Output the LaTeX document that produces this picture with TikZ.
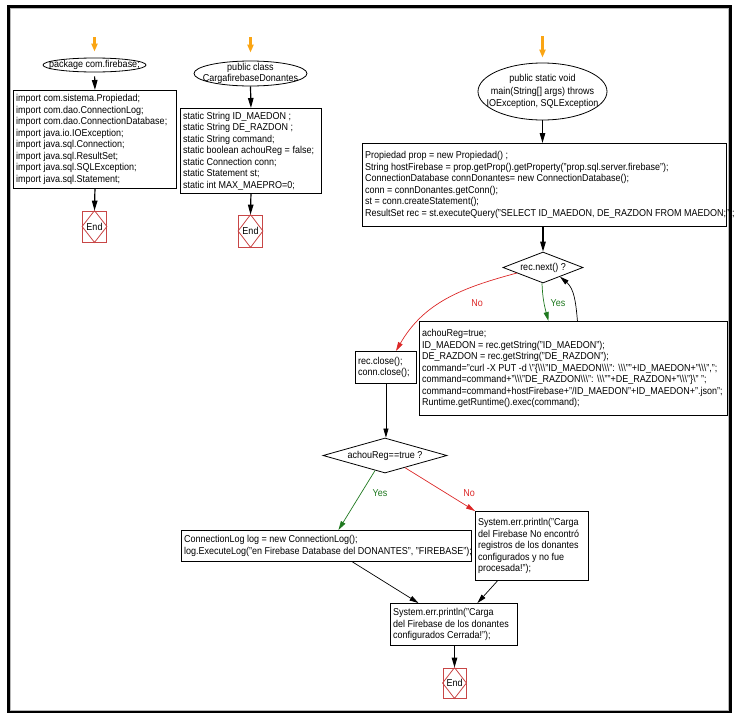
\documentclass[tikz,border=0pt]{standalone}
\usepackage{fontspec}
\setmainfont{Liberation Sans}[FakeStretch=0.9]
\usetikzlibrary{shapes.geometric,arrows.meta,calc}
\newcommand\bsl{\textbackslash}
\definecolor{endred}{RGB}{200,70,70}
\definecolor{orng}{RGB}{250,165,20}
\definecolor{yesgreen}{RGB}{30,120,30}
\definecolor{nored}{RGB}{220,40,40}
\begin{document}
\begin{tikzpicture}[x=1pt,y=-1pt,
  every node/.style={font=\fontsize{10}{11.5}\selectfont},
  boxs/.style={draw, line width=0.9pt, anchor=north west, inner sep=0pt},
  txt/.style={anchor=west, align=left, inner sep=3pt},
  ctxt/.style={align=center, inner sep=0pt},
  ell/.style={draw, ellipse, line width=0.8pt, inner sep=0pt},
  dia/.style={draw, diamond, line width=0.8pt, inner sep=0pt},
  endbox/.style={draw=endred, line width=0.8pt, inner sep=0pt},
  startarr/.style={draw=orng, line width=2.2pt, -{Triangle[length=8pt,width=6pt]}},
  flow/.style={line width=1.2pt, -{Triangle[length=10pt,width=5.5pt]}},
  flowthin/.style={line width=0.7pt, -{Triangle[length=9pt,width=5pt]}},
  yesarr/.style={draw=yesgreen, line width=0.7pt, -{Triangle[length=9pt,width=5pt]}},
  noarr/.style={draw=nored, line width=0.7pt, -{Triangle[length=9pt,width=5pt]}}
]
\useasboundingbox (0,0) rectangle (741,718);
% frame
\draw[gray!55, line width=0.8pt] (10.5,8.5) rectangle (728.5,710);
\draw[line width=2.5pt] (8.5,6.5) rectangle (730.5,712);

% ---------- column 1
\coordinate (s1) at (94.5,37);
\node[ell, minimum width=103pt, minimum height=14pt] (e1) at (94.5,65) {};
\node[ctxt] (e1t) at (e1) {package com.firebase;};
\node[boxs, minimum width=163pt, minimum height=98pt] (b1) at (13,90) {};
\node[txt] (b1t) at (b1.west) {import com.sistema.Propiedad;\\
import com.dao.ConnectionLog;\\
import com.dao.ConnectionDatabase;\\
import java.io.IOException;\\
import java.sql.Connection;\\
import java.sql.ResultSet;\\
import java.sql.SQLException;\\
import java.sql.Statement;};
\node[endbox, minimum width=24pt, minimum height=31pt] (end1) at (94.5,226.5) {};
\draw[endred, line width=0.8pt] (end1.north) -- (end1.east) -- (end1.south) -- (end1.west) -- cycle;
\node[ctxt] (end1t) at (end1) {End};
\draw[startarr, shorten >=6pt] (s1) -- (e1.north);
\draw[flow, shorten <=4pt] (e1.south) -- (b1.north);
\draw[flow] (b1.south) -- (end1.north);

% ---------- column 2
\coordinate (s2) at (250.5,37);
\node[ell, minimum width=113pt, minimum height=25pt] (e2) at (250.5,73.5) {};
\node[ctxt] (e2t) at (e2) {public class\\CargafirebaseDonantes};
\node[boxs, minimum width=141pt, minimum height=85pt] (b2) at (180,108) {};
\node[txt] (b2t) at (b2.west) {static String ID\_MAEDON ;\\
static String DE\_RAZDON ;\\
static String command;\\
static boolean achouReg = false;\\
static Connection conn;\\
static Statement st;\\
static int MAX\_MAEPRO=0;};
\node[endbox, minimum width=24pt, minimum height=32pt] (end2) at (250.5,231) {};
\draw[endred, line width=0.8pt] (end2.north) -- (end2.east) -- (end2.south) -- (end2.west) -- cycle;
\node[ctxt] (end2t) at (end2) {End};
\draw[startarr, shorten >=8pt] (s2) -- (e2.north);
\draw[flow] (e2.south) -- (b2.north);
\draw[flow] (b2.south) -- (end2.north);

% ---------- main
\coordinate (s3) at (542.5,36);
\node[ell, minimum width=129pt, minimum height=57pt] (e3) at (542.5,91.5) {};
\node[ctxt, font=\fontsize{10}{12.5}\selectfont] (e3t) at (e3) {public static void\\main(String[] args) throws\\IOException, SQLException};
\node[boxs, minimum width=364pt, minimum height=83pt] (b3) at (362,143) {};
\node[txt] (b3t) at (b3.west) {Propiedad prop = new Propiedad() ;\\
String hostFirebase = prop.getProp().getProperty("prop.sql.server.firebase");\\
ConnectionDatabase connDonantes= new ConnectionDatabase();\\
conn = connDonantes.getConn();\\
st = conn.createStatement();\\
ResultSet rec = st.executeQuery("SELECT ID\_MAEDON, DE\_RAZDON FROM MAEDON;");};
\draw[startarr, shorten >=5pt] (s3) -- (e3.north);
\draw[flow] (e3.south) -- (e3.south |- b3.north);

\node[dia, minimum width=80pt, minimum height=31pt] (d1) at (543,267.5) {};
\node[ctxt] (d1t) at (d1) {rec.next() ?};
\draw[flow] (d1.north |- b3.south) -- (d1.north);

\node[boxs, minimum width=308pt, minimum height=94pt] (b4) at (419,321) {};
\node[txt] (b4t) at (b4.west) {achouReg=true;\\
ID\_MAEDON = rec.getString("ID\_MAEDON");\\
DE\_RAZDON = rec.getString("DE\_RAZDON");\\
command="curl -X PUT -d \bsl"\{\bsl\bsl\bsl"ID\_MAEDON\bsl\bsl\bsl": \bsl\bsl\bsl""+ID\_MAEDON+"\bsl\bsl\bsl",";\\
command=command+"\bsl\bsl\bsl"DE\_RAZDON\bsl\bsl\bsl": \bsl\bsl\bsl""+DE\_RAZDON+"\bsl\bsl\bsl"\}\bsl" ";\\
command=command+hostFirebase+"/ID\_MAEDON"+ID\_MAEDON+".json";\\
Runtime.getRuntime().exec(command);};

\node[boxs, minimum width=61pt, minimum height=32pt] (b5) at (355,351) {};
\node[txt] (b5t) at (b5.west) {rec.close();\\conn.close();};

\draw[yesarr] ([xshift=-1pt]d1.south) to[out=-88,in=105] ([xshift=-25pt]b4.north);
\draw[flowthin] ([xshift=4pt]b4.north) to[out=95,in=-40] ($(d1.south)!0.42!(d1.east)$);
\draw[noarr] ($(d1.west)!0.35!(d1.south)$) to[out=195,in=60] ([xshift=10pt]b5.north);
\node[text=nored] (l1) at (477,303) {No};
\node[text=yesgreen] (l2) at (558,303) {Yes};

\node[dia, minimum width=124pt, minimum height=35pt] (d2) at (385,455.5) {};
\node[ctxt] (d2t) at (d2) {achouReg==true ?};
\draw[flowthin] (b5.south) -- (b5.south |- d2.north);

\node[boxs, minimum width=290pt, minimum height=31pt] (b6) at (181,530) {};
\node[txt] (b6t) at (b6.west) {ConnectionLog log = new ConnectionLog();\\
log.ExecuteLog("en Firebase Database del DONANTES", "FIREBASE");};

\node[boxs, minimum width=113pt, minimum height=69pt] (b7) at (475,511) {};
\node[txt] (b7t) at (b7.west) {System.err.println("Carga\\
del Firebase No encontró\\
registros de los donantes\\
configurados y no fue\\
procesada!");};

\draw[yesarr] ($(d2.west)!0.84!(d2.south)$) -- ([xshift=12pt]b6.north);
\draw[noarr] ($(d2.south)!0.32!(d2.east)$) -- (b7.north west);
\node[text=yesgreen] (l3) at (380,493) {Yes};
\node[text=nored] (l4) at (469,493) {No};

\node[boxs, minimum width=127pt, minimum height=42pt] (b8) at (390,603) {};
\node[txt] (b8t) at (b8.west) {System.err.println("Carga\\
del Firebase de los donantes\\
configurados Cerrada!");};

\draw[flowthin] ([xshift=26pt]b6.south) -- ([xshift=-35.5pt]b8.north);
\draw[flowthin] ([xshift=-34.5pt]b7.south) -- ([xshift=23.5pt]b8.north);

\node[endbox, minimum width=23pt, minimum height=30pt] (end3) at (454.5,683) {};
\draw[endred, line width=0.8pt] (end3.north) -- (end3.east) -- (end3.south) -- (end3.west) -- cycle;
\node[ctxt] (end3t) at (end3) {End};
\draw[flow] (end3.north |- b8.south) -- (end3.north);
\end{tikzpicture}
\end{document}
